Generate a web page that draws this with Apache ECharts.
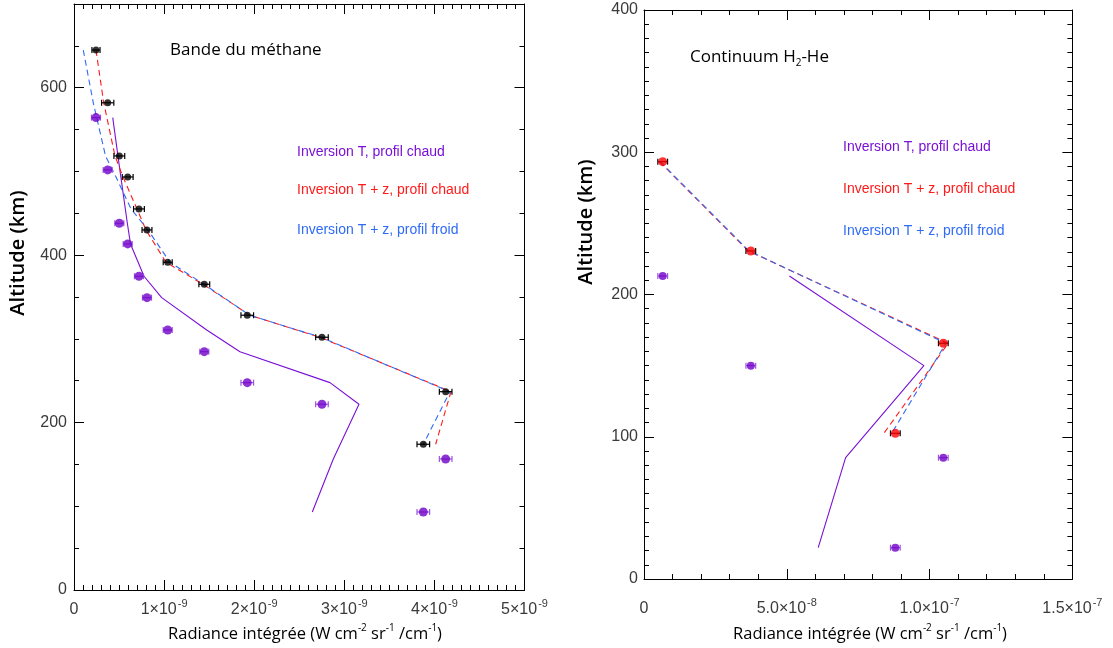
<!DOCTYPE html>
<html><head><meta charset="utf-8">
<script src="https://cdn.jsdelivr.net/npm/echarts@6/dist/echarts.min.js"></script>
<style>html,body{margin:0;padding:0;background:#fff}#c{width:1113px;height:648px}</style>
</head><body><div id="c"></div>
<script>
// ---------- Left panel: "Bande du méthane" (radiance in units of 1e-9) ----------
var methAltObs   = [645, 582, 518.5, 493.4, 455.2, 430.1, 391.5, 365.2, 328.2, 301.9, 236.9, 174.1];
var methRadObs   = [0.244, 0.374, 0.503, 0.596, 0.721, 0.810, 1.040, 1.446, 1.923, 2.752, 4.125, 3.877];
var methErrObs   = [0.045, 0.068, 0.06, 0.06, 0.06, 0.055, 0.05, 0.06, 0.07, 0.07, 0.07, 0.07];
var methAltShift = [564.3, 501.8, 438.1, 413.4, 374.8, 349.2, 310.6, 284.7, 247.7, 221.9, 156.5, 93.2];
var methErrShift = [0.05, 0.05, 0.05, 0.05, 0.05, 0.05, 0.05, 0.05, 0.07, 0.07, 0.07, 0.07];
var methInvT     = [0.430, 0.509, 0.592, 0.627, 0.777, 0.973, 1.473, 1.842, 2.841, 3.163, 2.878, 2.645];
var methInvTZHot = [0.244, 0.33, 0.455, 0.544, 0.699, 0.799, 1.021, 1.432, 1.953, 2.730, 4.184, 4.014];
var methInvTZCold= [0.103, 0.214, 0.350, 0.466, 0.633, 0.821, 1.065, 1.443, 1.95, 2.74, 4.173, 3.877];
var methXTicks   = ['0', '1×10|-9', '2×10|-9', '3×10|-9', '4×10|-9', '5×10|-9'];

// ---------- Right panel: "Continuum H2-He" (radiance in units of 1e-8) ----------
var contAltObs   = [293.4, 230.6, 165.7, 102.4];
var contRadObs   = [0.655, 3.74, 10.48, 8.80];
var contErrObs   = [0.17, 0.17, 0.17, 0.17];
var contAltShift = [213.0, 150.0, 85.3, 22.0];
var contErrShift = [0.17, 0.17, 0.17, 0.17];
var contInvT     = [5.09, 9.80, 7.06, 6.10];
var contInvTZHot = [0.54, 3.65, 10.65, 8.40];
var contInvTZCold= [0.56, 3.68, 10.57, 8.67];
var contXTicks   = ['0', '5.0×10|-8', '1.0×10|-7', '1.5×10|-7'];

var legendLabels = ['Inversion T, profil chaud', 'Inversion T + z, profil chaud', 'Inversion T + z, profil froid'];

var PURPLE = '#7A10D6', PURPLE_PT = '#7000C8', RED = '#FF1A1A', BLUE = '#2F6BF5';
var TICKFONT = 'Liberation Sans', TXTFONT = 'Open Sans';

function pairs(xs, ys){ return xs.map(function(x,i){return [x, ys[i]];}); }
function triples(xs, ys, es){ return xs.map(function(x,i){return [x, ys[i], es[i]];}); }

var supRich = {
  b: {fontFamily: TICKFONT, fontSize: 16, color: '#3a3a3a', verticalAlign: 'bottom', lineHeight: 20},
  s: {fontFamily: TICKFONT, fontSize: 11, color: '#3a3a3a', verticalAlign: 'top', lineHeight: 20, padding:[0,0,0,1]}
};
function tickFmt(list, interval){
  return function(v){
    var i = Math.round(v / interval);
    var t = list[i];
    if (t == null) return '';
    var p = t.split('|');
    return p.length > 1 ? '{b|' + p[0] + '}{s|' + p[1] + '}' : '{b|' + p[0] + '}';
  };
}

function errRender(color){
  return function(params, api){
    var v = api.value(0), a = api.value(1), e = api.value(2);
    var p1 = api.coord([v - e, a]), p2 = api.coord([v + e, a]);
    var h = 3, st = {stroke: color, lineWidth: 1.2};
    return {type: 'group', children: [
      {type: 'line', shape: {x1: p1[0], y1: p1[1], x2: p2[0], y2: p2[1]}, style: st},
      {type: 'line', shape: {x1: p1[0], y1: p1[1]-h, x2: p1[0], y2: p1[1]+h}, style: st},
      {type: 'line', shape: {x1: p2[0], y1: p2[1]-h, x2: p2[0], y2: p2[1]+h}, style: st}
    ]};
  };
}

var axLine = {show: true, onZero: false, lineStyle: {color: '#000', width: 1}};
var noLine = {show: false, onZero: false};
function xAxis(grid, pos, max, interval, minorSplit, labels, margin){
  return {
    type: 'value', gridIndex: grid, position: pos, min: 0, max: max, interval: interval,
    axisLine: axLine,
    axisTick: {show: true, inside: true, length: 10, lineStyle: {color: '#000', width: 1}},
    minorTick: {show: true, splitNumber: minorSplit, length: 5, lineStyle: {color: '#000', width: 1}},
    splitLine: {show: false}, minorSplitLine: {show: false},
    axisLabel: labels ? {show: true, margin: margin, formatter: tickFmt(labels, interval), rich: supRich} : {show: false}
  };
}
function yAxis(grid, pos, max, interval, tickLen, minorSplit, showLine, labelOn, margin){
  var ax = {
    type: 'value', gridIndex: grid, position: pos, min: 0, max: max, interval: interval,
    axisLine: showLine ? axLine : noLine,
    axisTick: {show: true, inside: true, length: tickLen, lineStyle: {color: '#000', width: 1}},
    splitLine: {show: false}, minorSplitLine: {show: false},
    axisLabel: {show: false}
  };
  if (minorSplit) ax.minorTick = {show: true, splitNumber: minorSplit, length: 5, lineStyle: {color: '#000', width: 1}};
  if (labelOn) ax.axisLabel = {show: true, margin: margin, fontFamily: TICKFONT, fontSize: 16, color: '#3a3a3a',
    formatter: function(v){ return (v % labelOn === 0 && (v < max || max % labelOn === 0)) ? String(v) : ''; }};
  return ax;
}

var chart = echarts.init(document.getElementById('c'), null, {renderer: 'canvas'});

function lineSeries(xi, yi, xs, ys, color, dashed){
  return {type: 'line', xAxisIndex: xi, yAxisIndex: yi, data: pairs(xs, ys), symbol: 'none', silent: true,
    lineStyle: {color: color, width: 1.1, type: dashed ? [6, 4] : 'solid'}, z: 2, animation: false};
}
function errSeries(xi, yi, xs, ys, es, color){
  return {type: 'custom', xAxisIndex: xi, yAxisIndex: yi, data: triples(xs, ys, es), renderItem: errRender(color),
    encode: {x: 0, y: 1}, z: 3, silent: true, animation: false};
}
function dotSeries(xi, yi, xs, ys, color, size){
  return {type: 'scatter', xAxisIndex: xi, yAxisIndex: yi, data: pairs(xs, ys), symbol: 'circle', symbolSize: size,
    itemStyle: {color: color}, z: 4, silent: true, animation: false};
}

var legendColors = [PURPLE, RED, BLUE];
var graphics = [];
function addLegend(x, ys){
  for (var i = 0; i < 3; i++) graphics.push({type: 'text', x: x, y: ys[i], style: {text: legendLabels[i], fill: legendColors[i],
    font: '14px "' + TICKFONT + '"', verticalAlign: 'middle'}});
}
addLegend(297, [152, 190, 230]);
addLegend(843, [147, 189, 231]);

var titleRich = {
  b: {fontFamily: TXTFONT, fontSize: 17, color: '#000', verticalAlign: 'middle', lineHeight: 22},
  s: {fontFamily: TXTFONT, fontSize: 10, color: '#000', verticalAlign: 'top', lineHeight: 22},
  d: {fontFamily: TXTFONT, fontSize: 10, color: '#000', verticalAlign: 'bottom', lineHeight: 18}
};
var axTitleRich = {
  b: {fontFamily: TXTFONT, fontSize: 16.5, color: '#000', verticalAlign: 'middle', lineHeight: 22},
  s: {fontFamily: TXTFONT, fontSize: 10, color: '#000', verticalAlign: 'top', lineHeight: 22}
};
var yTitleRich = {
  b: {fontFamily: TXTFONT, fontSize: 20, fontWeight: 600, color: '#000', verticalAlign: 'middle', lineHeight: 24}
};
graphics.push({type: 'text', x: 170, y: 50, style: {text: '{b|Bande du méthane}', rich: titleRich, verticalAlign: 'middle'}});
graphics.push({type: 'text', x: 690, y: 57, style: {text: '{b|Continuum H}{d|2}{b|-He}', rich: titleRich, verticalAlign: 'middle'}});
var xTitle = '{b|Radiance intégrée (W cm}{s|-2}{b| sr}{s|-1}{b| /cm}{s|-1}{b|)}';
graphics.push({type: 'text', x: 305, y: 634, style: {text: xTitle, rich: axTitleRich, align: 'center', verticalAlign: 'middle'}});
graphics.push({type: 'text', x: 870, y: 634, style: {text: xTitle, rich: axTitleRich, align: 'center', verticalAlign: 'middle'}});
graphics.push({type: 'text', x: 18, y: 253, rotation: Math.PI/2, style: {text: '{b|Altitude (km)}', rich: yTitleRich, align: 'center', verticalAlign: 'middle'}});
graphics.push({type: 'text', x: 586, y: 222, rotation: Math.PI/2, style: {text: '{b|Altitude (km)}', rich: yTitleRich, align: 'center', verticalAlign: 'middle'}});

chart.setOption({
  animation: false,
  backgroundColor: '#fff',
  grid: [
    {left: 74, top: 4, width: 450.5, height: 586},
    {left: 644, top: 10, width: 428.4, height: 569}
  ],
  xAxis: [
    xAxis(0, 'bottom', 5, 1, 10, methXTicks, 8),
    xAxis(0, 'top', 5, 1, 10, null, 0),
    xAxis(1, 'bottom', 15, 5, 5, contXTicks, 18),
    xAxis(1, 'top', 15, 5, 5, null, 0)
  ],
  yAxis: [
    yAxis(0, 'left', 700, 200, 10, 0, true, 200, 7),
    yAxis(0, 'left', 700, 50, 5, 0, false, 0, 0),
    yAxis(0, 'right', 700, 200, 10, 0, true, 0, 0),
    yAxis(0, 'right', 700, 50, 5, 0, false, 0, 0),
    yAxis(1, 'left', 400, 100, 10, 10, true, 100, 6),
    yAxis(1, 'right', 400, 100, 10, 10, true, 0, 0)
  ],
  series: [
    lineSeries(0, 0, methInvT, methAltShift, PURPLE, false),
    lineSeries(0, 0, methInvTZHot, methAltObs, RED, true),
    lineSeries(0, 0, methInvTZCold, methAltObs, BLUE, true),
    errSeries(0, 0, methRadObs, methAltShift, methErrShift, '#9a55e0'),
    dotSeries(0, 0, methRadObs, methAltShift, PURPLE_PT, 9),
    errSeries(0, 0, methRadObs, methAltObs, methErrObs, '#000'),
    dotSeries(0, 0, methRadObs, methAltObs, '#000', 7),

    lineSeries(2, 4, contInvT, contAltShift, PURPLE, false),
    lineSeries(2, 4, contInvTZHot, contAltObs, RED, true),
    lineSeries(2, 4, contInvTZCold, contAltObs, BLUE, true),
    errSeries(2, 4, contRadObs, contAltShift, contErrShift, '#9a55e0'),
    dotSeries(2, 4, contRadObs, contAltShift, PURPLE_PT, 8),
    errSeries(2, 4, contRadObs, contAltObs, contErrObs, '#000'),
    dotSeries(2, 4, contRadObs, contAltObs, '#FF0000', 9)
  ],
  graphic: graphics
});
</script></body></html>
